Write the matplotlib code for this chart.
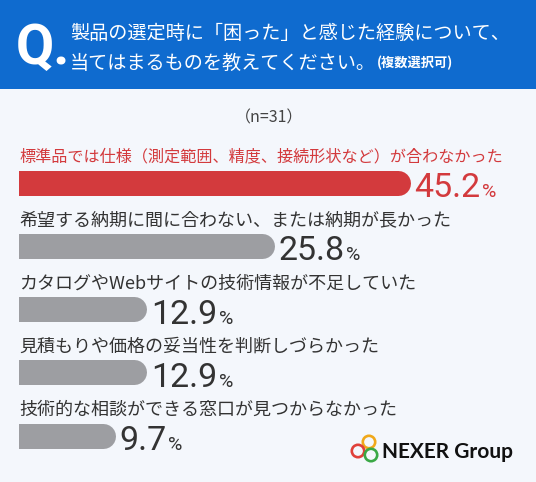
import numpy as np
import matplotlib
matplotlib.use('Agg')
import matplotlib.pyplot as plt
from matplotlib.patches import Rectangle, Circle
from matplotlib.transforms import offset_copy

plt.rcParams['font.family'] = ['Noto Sans CJK JP', 'DejaVu Sans']

title_1 = '製品の選定時に「困った」と感じた経験について、'
title_2 = '当てはまるものを教えてください。'
title_note = '(複数選択可)'
sample = '（n=31）'

labels = [
    '標準品では仕様（測定範囲、精度、接続形状など）が合わなかった',
    '希望する納期に間に合わない、または納期が長かった',
    'カタログやWebサイトの技術情報が不足していた',
    '見積もりや価格の妥当性を判断しづらかった',
    '技術的な相談ができる窓口が見つからなかった',
]
values = [45.2, 25.8, 12.9, 12.9, 9.7]

W, H = 536, 482
BLUE = '#0f6bcf'
RED = '#d33a3d'
GRAY = '#9d9ea2'
TXT = '#333333'

fig = plt.figure(figsize=(W / 100, H / 100), dpi=100)
fig.patch.set_facecolor('#f4f7fc')

# background layer in pixel coords
bg = fig.add_axes([0, 0, 1, 1])
bg.set_xlim(0, W)
bg.set_ylim(H, 0)
bg.axis('off')
bg.add_patch(Rectangle((0, 0), W, 89, color=BLUE, lw=0))

bg.text(16, 64, 'Q.', color='white', fontsize=40, weight='bold',
        family='Roboto', va='baseline')
bg.text(70, 33, title_1, color='white', fontsize=13.8, va='center')
t2 = bg.text(70, 63, title_2, color='white', fontsize=13.8, va='center')
bg.annotate(title_note, xy=(1, 0.5), xycoords=t2, xytext=(0.5, 0),
            textcoords='offset points', va='center', color='white',
            fontsize=9.5, weight='bold')
bg.text(269, 118, sample, ha='center', va='center', fontsize=11.5, color='#444444')

# logo
for (cx, cy), col in [((369, 442), '#f0a81a'), ((358, 451), '#e0403a'),
                      ((371, 455), '#3aa845')]:
    bg.add_patch(Circle((cx, cy), 6.2, fill=False, ec=col, lw=1.9))
bg.text(382, 452, 'NEXER Group', va='center', fontsize=15, weight='bold',
        family='Lato', color='#111111')

# bars
ax = fig.add_axes([19 / W, 0, (W - 19) / W, 1])
ax.patch.set_alpha(0)
ax.axis('off')

knots_v = [0, 26, 100]
knots_px = [0, 257.4, 257.4 + 74 * 6.98]


def fwd(v):
    return np.interp(v, knots_v, knots_px)


def inv(p):
    return np.interp(p, knots_px, knots_v)


ax.set_xscale('function', functions=(fwd, inv))

bar_h = 25
y0, step = 182.5, 63.3
shift = offset_copy(ax.transData, fig=fig, x=-bar_h / 2, y=0, units='dots')

for i, (lab, v) in enumerate(zip(labels, values)):
    yc = y0 + i * step
    col = RED if i == 0 else GRAY
    tcol = RED if i == 0 else TXT
    ax.plot([0, v], [yc, yc], color=col, lw=bar_h * 0.72,
            solid_capstyle='round', transform=shift)
    ax.text(0, yc - 25.5, lab, fontsize=11.6 if i == 0 else 13,
            va='center', color=tcol)
    t = ax.annotate(f'{v:.1f}', xy=(v, yc + bar_h / 2), xytext=(3, -1.5),
                    textcoords='offset points', va='baseline', ha='left',
                    fontsize=24.5, family='Roboto', color=tcol)
    ax.annotate('%', xy=(1, yc + bar_h / 2), xycoords=(t, 'data'),
                xytext=(1, -1.5), textcoords='offset points', va='baseline',
                fontsize=14, family='Roboto', color=tcol)

ax.set_xlim(0, inv(W - 19))
ax.set_ylim(H, 0)

fig.savefig('out.png', dpi=100, facecolor=fig.get_facecolor())
